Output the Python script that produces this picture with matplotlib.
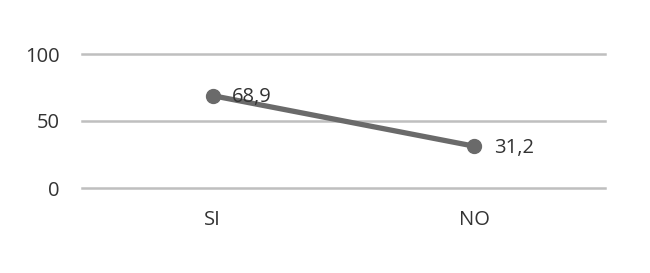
import matplotlib
matplotlib.use("Agg")
import matplotlib.pyplot as plt

categories = ["SI", "NO"]
values = [68.9, 31.2]
labels = ["68,9", "31,2"]
yticks = [0, 50, 100]

plt.rcParams['font.family'] = ['Open Sans', 'DejaVu Sans']

fig = plt.figure(figsize=(6.5, 2.73), dpi=100)
ax = fig.add_axes([82/650, 1-188/273, (605-82)/650, (188-54)/273])
x = list(range(len(categories)))
ax.plot(x, values, color='#6a6a6a', lw=3.8, marker='o', ms=10, zorder=3, solid_capstyle='round', clip_on=False)
for xi, v, lab in zip(x, values, labels):
    ax.annotate(lab, (xi, v), xytext=(14, -1), textcoords='offset points',
                va='center', ha='left', fontsize=14.5, color='#333333')
ax.set_xlim(-0.5, 1.5)
ax.set_ylim(0, 100)
ax.set_yticks(yticks)
ax.set_xticks(x)
ax.set_xticklabels(categories)
ax.yaxis.grid(True, color='#bfbfbf', lw=1.8)
for gl in ax.get_ygridlines():
    gl.set_clip_on(False)
ax.set_axisbelow(True)
for s in ax.spines.values():
    s.set_visible(False)
ax.tick_params(axis='both', length=0, labelsize=14.5, colors='#333333')
ax.tick_params(axis='y', pad=16)
ax.tick_params(axis='x', pad=16)
fig.savefig("out.png", dpi=100, facecolor='white')
